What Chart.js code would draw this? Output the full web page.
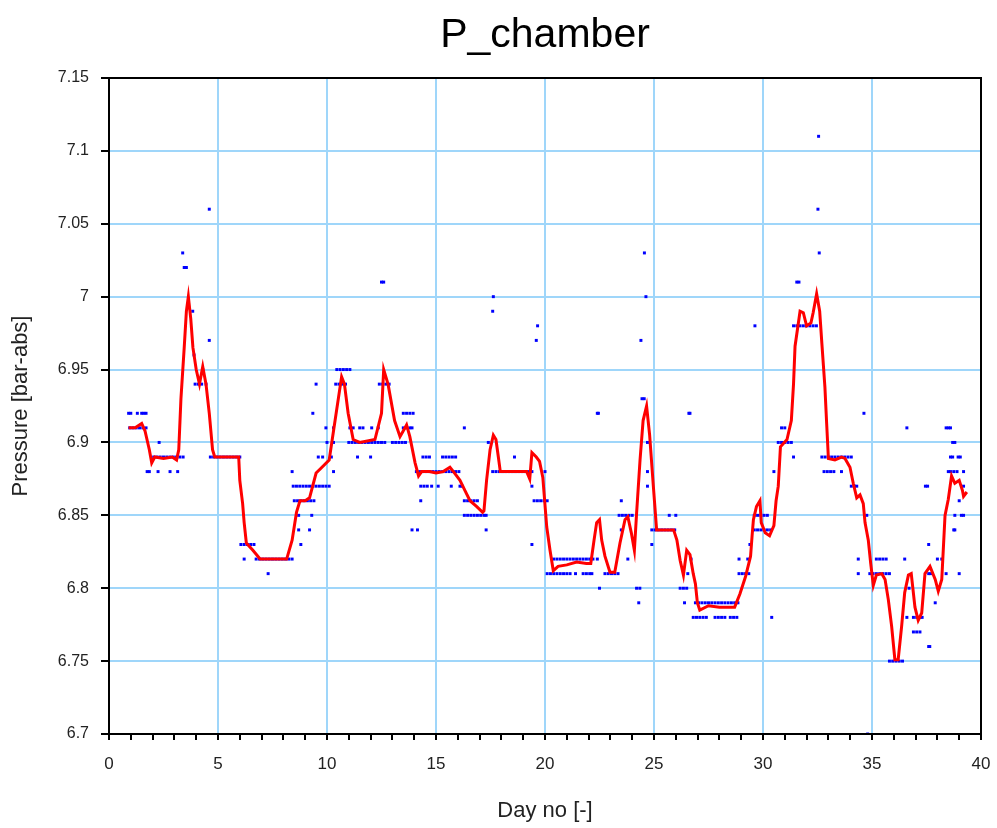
<!DOCTYPE html>
<html lang="en">
<head>
    <meta charset="UTF-8">
    <title>P_chamber</title>
    <script src="https://cdn.jsdelivr.net/npm/chart.js@4.4.1/dist/chart.umd.min.js"></script>
    <style>
        body {
            margin: 0;
            padding: 0;
            background-color: #ffffff;
        }
        #chartContainer {
            width: 997px;
            height: 828px;
        }
    </style>
</head>
<body>
    <div id="chartContainer">
        <canvas id="pChamberChart" width="997" height="828"></canvas>
    </div>

    <script>
        // Raw pressure samples [day, bar-abs] (0.01 bar resolution)
        const rawSamples = [
            [0.9, 6.92], [1.0, 6.92], [1.3, 6.92], [1.5, 6.92], [1.6, 6.92], [1.7, 6.92],
            [0.95, 6.91], [1.1, 6.91], [1.25, 6.91], [1.4, 6.91], [1.55, 6.91], [1.7, 6.91],
            [2.3, 6.90],
            [2.05, 6.89], [2.2, 6.89], [2.35, 6.89], [2.5, 6.89], [2.65, 6.89], [2.8, 6.89], [2.95, 6.89], [3.1, 6.89], [3.25, 6.89], [3.4, 6.89],
            [1.75, 6.88], [1.85, 6.88], [2.25, 6.88], [2.8, 6.88], [3.15, 6.88],
            [3.38, 7.03], [3.45, 7.02], [3.55, 7.02], [3.84, 6.99], [4.6, 6.97], [4.6, 7.06], [3.9, 6.96], [4.3, 6.95],
            [3.95, 6.94], [4.1, 6.94], [4.25, 6.94], [4.45, 6.94],
            [4.65, 6.89], [4.8, 6.89], [4.95, 6.89], [5.1, 6.89], [5.25, 6.89], [5.4, 6.89], [5.55, 6.89], [5.7, 6.89], [5.85, 6.89], [6.0, 6.89],
            [6.05, 6.83], [6.2, 6.83], [6.35, 6.83], [6.5, 6.83], [6.65, 6.83],
            [6.2, 6.82], [6.75, 6.82], [6.9, 6.82], [7.05, 6.82], [7.2, 6.82], [7.35, 6.82], [7.5, 6.82], [7.65, 6.82], [7.8, 6.82], [7.95, 6.82], [8.1, 6.82], [8.25, 6.82], [8.4, 6.82],
            [7.3, 6.81],
            [8.4, 6.88],
            [8.45, 6.87], [8.6, 6.87], [8.75, 6.87], [8.9, 6.87], [9.05, 6.87], [9.2, 6.87], [9.35, 6.87], [9.5, 6.87], [9.65, 6.87], [9.8, 6.87], [9.95, 6.87], [10.1, 6.87],
            [8.5, 6.86], [8.65, 6.86], [8.8, 6.86], [8.95, 6.86], [9.1, 6.86], [9.25, 6.86], [9.4, 6.86],
            [8.7, 6.85], [9.3, 6.85], [8.7, 6.84], [9.2, 6.84], [8.8, 6.83],
            [9.5, 6.94], [9.35, 6.92], [9.6, 6.89], [9.95, 6.91], [10.0, 6.90], [9.8, 6.89], [10.2, 6.89], [10.3, 6.88],
            [10.45, 6.95], [10.6, 6.95], [10.75, 6.95], [10.9, 6.95], [11.05, 6.95],
            [10.4, 6.94], [10.55, 6.94], [10.7, 6.94], [10.85, 6.94],
            [12.4, 6.94], [12.55, 6.94], [12.7, 6.94], [12.85, 6.94],
            [10.3, 6.91], [11.05, 6.91], [11.2, 6.91], [11.5, 6.91], [11.65, 6.91], [12.05, 6.91], [12.35, 6.91],
            [13.5, 6.91], [13.65, 6.91], [13.8, 6.91], [13.9, 6.91],
            [10.3, 6.90], [11.0, 6.90], [11.15, 6.90], [11.3, 6.90], [11.45, 6.90], [11.6, 6.90], [11.75, 6.90], [11.9, 6.90],
            [12.05, 6.90], [12.2, 6.90], [12.35, 6.90], [12.5, 6.90], [12.65, 6.90],
            [13.0, 6.90], [13.15, 6.90], [13.3, 6.90], [13.45, 6.90], [13.6, 6.90],
            [11.4, 6.89], [12.0, 6.89],
            [13.5, 6.92], [13.65, 6.92], [13.8, 6.92], [13.95, 6.92],
            [12.5, 7.01], [12.6, 7.01],
            [13.9, 6.84], [14.15, 6.84],
            [14.4, 6.89], [14.55, 6.89], [14.7, 6.89], [15.3, 6.89], [15.45, 6.89], [15.6, 6.89], [15.75, 6.89], [15.9, 6.89],
            [14.1, 6.88], [14.25, 6.88], [14.4, 6.88], [14.55, 6.88], [14.7, 6.88], [14.85, 6.88], [15.0, 6.88], [15.15, 6.88],
            [15.3, 6.88], [15.45, 6.88], [15.6, 6.88], [15.75, 6.88], [15.9, 6.88], [16.05, 6.88],
            [14.3, 6.87], [14.45, 6.87], [14.6, 6.87], [14.8, 6.87], [15.1, 6.87], [15.7, 6.87], [16.1, 6.87], [16.2, 6.87],
            [14.3, 6.86], [16.3, 6.86], [16.45, 6.86], [16.6, 6.86], [16.75, 6.86], [16.9, 6.86],
            [16.3, 6.85], [16.45, 6.85], [16.6, 6.85], [16.75, 6.85], [16.9, 6.85], [17.05, 6.85], [17.2, 6.85], [17.3, 6.85],
            [17.3, 6.84], [16.3, 6.91], [17.4, 6.90], [17.63, 7.00], [17.6, 6.99],
            [17.6, 6.88], [17.75, 6.88], [17.9, 6.88], [18.05, 6.88], [18.2, 6.88], [18.35, 6.88], [18.5, 6.88], [18.65, 6.88],
            [18.8, 6.88], [18.95, 6.88], [19.1, 6.88], [19.25, 6.88], [19.4, 6.88], [20.0, 6.88],
            [18.6, 6.89], [19.4, 6.87],
            [19.5, 6.86], [19.65, 6.86], [19.8, 6.86], [19.95, 6.86], [20.1, 6.86],
            [19.4, 6.83], [19.66, 6.98], [19.6, 6.97],
            [20.4, 6.82], [20.55, 6.82], [20.7, 6.82], [20.85, 6.82], [21.0, 6.82], [21.15, 6.82], [21.3, 6.82], [21.45, 6.82],
            [21.6, 6.82], [21.75, 6.82], [21.9, 6.82], [22.05, 6.82], [22.2, 6.82], [22.4, 6.82], [23.8, 6.82],
            [20.1, 6.81], [20.25, 6.81], [20.4, 6.81], [20.55, 6.81], [20.7, 6.81], [20.85, 6.81], [21.0, 6.81], [21.15, 6.81],
            [21.4, 6.81], [21.75, 6.81], [21.9, 6.81], [22.05, 6.81], [22.15, 6.81],
            [22.75, 6.81], [22.9, 6.81], [23.05, 6.81], [23.2, 6.81], [23.35, 6.81],
            [22.5, 6.80], [22.4, 6.92], [22.45, 6.92],
            [23.5, 6.86], [23.4, 6.85], [23.55, 6.85], [23.7, 6.85], [23.85, 6.85], [24.0, 6.85], [23.5, 6.84],
            [24.2, 6.80], [24.35, 6.80], [24.3, 6.79],
            [24.4, 6.97], [24.45, 6.93], [24.55, 6.93], [24.56, 7.03], [24.63, 7.00],
            [24.7, 6.90], [24.7, 6.88], [24.7, 6.87],
            [24.9, 6.84], [25.05, 6.84], [25.2, 6.84], [25.35, 6.84], [25.5, 6.84], [25.65, 6.84], [25.8, 6.84], [25.95, 6.84],
            [24.9, 6.83], [25.7, 6.85], [26.0, 6.85], [26.6, 6.92], [26.65, 6.92], [26.7, 6.82], [26.55, 6.81],
            [26.2, 6.80], [26.35, 6.80], [26.5, 6.80], [26.4, 6.79],
            [26.8, 6.78], [26.95, 6.78], [27.1, 6.78], [27.25, 6.78], [27.4, 6.78], [27.8, 6.78], [27.95, 6.78], [28.1, 6.78],
            [28.25, 6.78], [28.5, 6.78], [28.65, 6.78], [28.8, 6.78],
            [26.9, 6.79], [27.05, 6.79], [27.2, 6.79], [27.35, 6.79], [27.5, 6.79], [27.65, 6.79], [27.8, 6.79], [27.95, 6.79],
            [28.1, 6.79], [28.25, 6.79], [28.4, 6.79], [28.55, 6.79], [28.7, 6.79], [28.85, 6.79],
            [28.9, 6.82], [29.3, 6.82], [28.9, 6.81], [29.05, 6.81], [29.2, 6.81], [29.35, 6.81], [29.4, 6.83],
            [29.6, 6.85], [29.75, 6.85], [29.9, 6.85], [30.05, 6.85], [30.2, 6.85],
            [29.6, 6.84], [29.75, 6.84], [29.9, 6.84], [30.05, 6.84], [30.2, 6.84], [30.35, 6.84],
            [30.5, 6.88], [30.4, 6.78], [29.63, 6.98],
            [30.85, 6.91], [31.0, 6.91], [30.7, 6.90], [30.85, 6.90], [31.0, 6.90], [31.15, 6.90], [31.3, 6.90], [31.4, 6.89],
            [31.4, 6.98], [31.55, 6.98], [31.7, 6.98], [31.85, 6.98], [32.0, 6.98], [32.15, 6.98], [32.3, 6.98], [32.45, 6.98],
            [31.55, 7.01], [31.65, 7.01], [32.55, 7.11], [32.52, 7.06], [32.58, 7.03],
            [32.7, 6.89], [32.85, 6.89], [33.0, 6.89], [33.15, 6.89], [33.3, 6.89], [33.45, 6.89], [33.6, 6.89], [33.75, 6.89], [33.9, 6.89], [34.05, 6.89],
            [32.8, 6.88], [32.95, 6.88], [33.1, 6.88], [33.25, 6.88], [33.6, 6.88],
            [34.05, 6.87], [34.2, 6.87], [34.3, 6.87], [34.63, 6.92],
            [34.76, 6.85], [34.37, 6.82], [34.37, 6.81], [34.8, 6.70],
            [34.9, 6.81], [35.05, 6.81], [35.2, 6.81], [35.35, 6.81], [35.5, 6.81], [35.65, 6.81], [35.8, 6.81],
            [35.2, 6.82], [35.35, 6.82], [35.5, 6.82], [35.65, 6.82],
            [35.8, 6.75], [35.95, 6.75], [36.1, 6.75], [36.25, 6.75], [36.4, 6.75],
            [36.6, 6.91], [36.5, 6.82], [36.7, 6.80], [36.6, 6.78],
            [36.9, 6.78], [37.05, 6.78], [37.2, 6.78], [37.3, 6.78], [36.9, 6.77], [37.05, 6.77], [37.2, 6.77],
            [37.6, 6.76], [37.65, 6.76],
            [37.45, 6.87], [37.55, 6.87], [37.6, 6.83], [37.6, 6.81], [37.7, 6.81], [37.9, 6.79], [38.0, 6.82], [38.2, 6.82],
            [38.4, 6.91], [38.5, 6.91], [38.6, 6.91], [38.7, 6.90], [38.8, 6.90],
            [38.6, 6.89], [38.7, 6.89], [38.95, 6.89], [39.05, 6.89],
            [38.5, 6.88], [38.6, 6.88], [38.75, 6.88], [38.9, 6.88], [39.2, 6.88],
            [39.0, 6.86], [38.8, 6.85], [39.1, 6.85], [39.2, 6.85], [38.75, 6.84], [38.8, 6.84],
            [38.4, 6.81], [39.0, 6.81], [39.2, 6.87]
        ];

        // Smoothed (moving average) pressure, red curve
        const avgDay = [
            0.9, 1.2, 1.5, 1.65, 1.85, 1.96, 2.1, 2.5, 2.9, 3.1, 3.2, 3.3, 3.45, 3.55, 3.64, 3.75, 3.85, 4.0, 4.15, 4.3,
            4.45, 4.6, 4.75, 4.85, 5.5, 5.95, 6.0, 6.13, 6.2, 6.3, 6.6, 6.93, 8.15, 8.4, 8.6, 8.76, 9.0, 9.2, 9.5, 9.7,
            10.1, 10.37, 10.67, 10.8, 10.97, 11.2, 11.5, 12.2, 12.5, 12.6, 12.8, 13.1, 13.35, 13.65, 13.8, 14.04, 14.2, 14.34, 14.7, 15.0,
            15.33, 15.64, 15.8, 16.1, 16.33, 16.56, 16.87, 17.14, 17.2, 17.32, 17.48, 17.63, 17.75, 17.86, 17.95, 18.5, 19.16, 19.3, 19.4, 19.6,
            19.75, 19.9, 20.08, 20.23, 20.38, 20.6, 21.0, 21.45, 21.9, 22.1, 22.25, 22.37, 22.5, 22.6, 22.75, 22.98, 23.2, 23.44, 23.67, 23.8,
            23.96, 24.1, 24.2, 24.36, 24.5, 24.66, 24.8, 24.97, 25.12, 25.9, 26.05, 26.2, 26.35, 26.5, 26.65, 26.8, 26.9, 26.99, 27.1, 27.5,
            28.0, 28.4, 28.7, 28.94, 29.2, 29.43, 29.5, 29.56, 29.7, 29.86, 29.92, 30.1, 30.3, 30.5, 30.6, 30.7, 30.8, 31.1, 31.3, 31.4,
            31.47, 31.7, 31.85, 32.0, 32.2, 32.3, 32.46, 32.6, 32.7, 32.84, 32.92, 33.0, 33.3, 33.6, 33.76, 33.99, 34.14, 34.3, 34.45, 34.6,
            34.68, 34.83, 34.94, 35.06, 35.2, 35.45, 35.6, 35.75, 35.9, 36.05, 36.2, 36.36, 36.5, 36.67, 36.8, 36.97, 37.12, 37.28, 37.43, 37.66,
            37.9, 38.04, 38.2, 38.35, 38.5, 38.65, 38.8, 39.0, 39.15, 39.2, 39.35
        ];
        const avgP = [
            6.91, 6.91, 6.913, 6.908, 6.895, 6.886, 6.89, 6.889, 6.89, 6.888, 6.895, 6.93, 6.965, 6.99, 7.0, 6.985, 6.965, 6.95, 6.94, 6.952,
            6.94, 6.92, 6.895, 6.89, 6.89, 6.89, 6.874, 6.858, 6.845, 6.831, 6.826, 6.82, 6.82, 6.833, 6.852, 6.86, 6.86, 6.862, 6.879, 6.882,
            6.888, 6.915, 6.945, 6.94, 6.92, 6.902, 6.9, 6.902, 6.92, 6.95, 6.94, 6.915, 6.904, 6.912, 6.904, 6.886, 6.877, 6.88, 6.88, 6.879,
            6.88, 6.883, 6.88, 6.874, 6.867, 6.86, 6.856, 6.852, 6.853, 6.874, 6.895, 6.905, 6.902, 6.89, 6.88, 6.88, 6.88, 6.875, 6.893, 6.89,
            6.887, 6.876, 6.842, 6.826, 6.812, 6.815, 6.816, 6.818, 6.817, 6.817, 6.833, 6.845, 6.847, 6.833, 6.822, 6.811, 6.811, 6.831, 6.847, 6.849,
            6.838, 6.826, 6.851, 6.888, 6.915, 6.925, 6.905, 6.87, 6.84, 6.84, 6.833, 6.819, 6.809, 6.826, 6.823, 6.81, 6.803, 6.79, 6.785, 6.788,
            6.787, 6.787, 6.787, 6.796, 6.808, 6.822, 6.836, 6.847, 6.856, 6.86, 6.845, 6.838, 6.836, 6.843, 6.86, 6.87, 6.897, 6.902, 6.915, 6.94,
            6.966, 6.99, 6.989, 6.98, 6.982, 6.989, 7.002, 6.99, 6.968, 6.938, 6.913, 6.889, 6.888, 6.89, 6.889, 6.883, 6.872, 6.862, 6.864, 6.858,
            6.845, 6.833, 6.817, 6.802, 6.809, 6.81, 6.806, 6.792, 6.774, 6.751, 6.751, 6.774, 6.797, 6.809, 6.81, 6.787, 6.778, 6.783, 6.81, 6.815,
            6.806, 6.798, 6.806, 6.85, 6.861, 6.877, 6.872, 6.874, 6.867, 6.863, 6.866
        ];

        const dayRange = [0, 40];
        const pressureRange = [6.7, 7.15];
        const chartTitle = 'P_chamber';

        const gridBlue = '#9fd6fa';
        const fontFamily = '"Liberation Sans", Arial, sans-serif';

        // black frame round the plot area + title centred over the plot area
        const frame = {
            id: 'frame',
            afterDraw(chart) {
                const { ctx, chartArea: a } = chart;
                ctx.save();
                ctx.strokeStyle = '#000';
                ctx.lineWidth = 2;
                ctx.strokeRect(a.left, a.top, a.right - a.left, a.bottom - a.top);
                ctx.fillStyle = '#000';
                ctx.font = '41px ' + fontFamily;
                ctx.textAlign = 'center';
                ctx.textBaseline = 'alphabetic';
                ctx.fillText(chartTitle, (a.left + a.right) / 2, 47);
                ctx.restore();
            }
        };

        const ctx = document.getElementById('pChamberChart').getContext('2d');
        new Chart(ctx, {
            type: 'scatter',
            data: {
                datasets: [
                    {
                        label: 'P_chamber (avg)',
                        data: avgDay.map((d, i) => ({ x: d, y: avgP[i] })),
                        showLine: true,
                        borderColor: '#ff0000',
                        borderWidth: 3,
                        pointRadius: 0,
                        tension: 0,
                        order: 0
                    },
                    {
                        label: 'P_chamber',
                        data: rawSamples.map(p => ({ x: p[0], y: p[1] })),
                        backgroundColor: '#0000ff',
                        borderWidth: 0,
                        pointStyle: 'rect',
                        pointRadius: 2.1,
                        order: 1
                    }
                ]
            },
            options: {
                responsive: false,
                animation: false,
                layout: { padding: { left: 0, right: 16, top: 78, bottom: 0 } },
                plugins: {
                    legend: { display: false },
                    tooltip: { enabled: false },
                    title: { display: false }
                },
                scales: {
                    x: {
                        type: 'linear',
                        min: dayRange[0],
                        max: dayRange[1],
                        afterFit: s => { s.height = 94; s.paddingLeft = 0; s.paddingRight = 6; },
                        border: { display: true, color: '#000', width: 2 },
                        grid: {
                            color: c => (c.tick && c.tick.value % 5 === 0) ? gridBlue : 'rgba(0,0,0,0)',
                            lineWidth: 2,
                            tickColor: '#000',
                            tickLength: 6
                        },
                        ticks: {
                            stepSize: 1,
                            autoSkip: false,
                            maxRotation: 0,
                            color: '#222',
                            padding: 14,
                            font: { family: fontFamily, size: 17 },
                            callback: v => v % 5 === 0 ? v : ''
                        },
                        title: {
                            display: true,
                            text: 'Day no [-]',
                            color: '#222',
                            font: { family: fontFamily, size: 22 },
                            padding: { top: 8 }
                        }
                    },
                    y: {
                        min: pressureRange[0],
                        max: pressureRange[1],
                        afterFit: s => { s.width = 109; },
                        border: { display: true, color: '#000', width: 2 },
                        grid: {
                            color: gridBlue,
                            lineWidth: 2,
                            tickColor: '#000',
                            tickLength: 8
                        },
                        ticks: {
                            stepSize: 0.05,
                            color: '#222',
                            padding: 12,
                            font: { family: fontFamily, size: 16 },
                            callback: v => String(+v.toFixed(2))
                        },
                        title: {
                            display: true,
                            text: 'Pressure [bar-abs]',
                            color: '#222',
                            font: { family: fontFamily, size: 22 },
                            padding: { top: 8, bottom: 6 }
                        }
                    }
                }
            },
            plugins: [frame]
        });
    </script>
</body>
</html>
